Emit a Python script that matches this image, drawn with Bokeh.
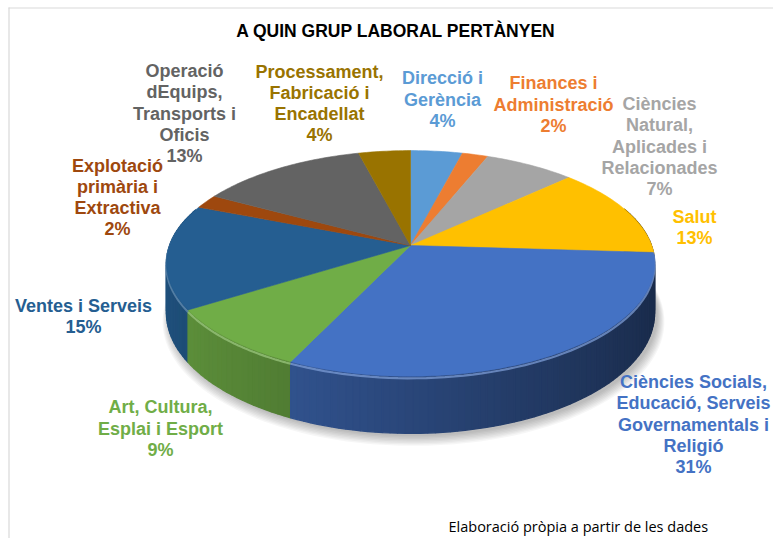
import numpy as np
from bokeh.plotting import figure
from bokeh.models import Range1d, ColumnDataSource
from bokeh.embed import file_html
from bokeh.resources import INLINE
from bokeh.core.properties import value

# ---------------- data ----------------
title_text = "A QUIN GRUP LABORAL  PERTÀNYEN"
categories = [
    "Direcció i Gerència",
    "Finances i Administració",
    "Ciències Natural, Aplicades i Relacionades",
    "Salut",
    "Ciències Socials, Educació, Serveis Governamentals i Religió",
    "Art, Cultura, Esplai i Esport",
    "Ventes i Serveis",
    "Explotació primària i Extractiva",
    "Operació dEquips, Transports i Oficis",
    "Processament, Fabricació i Encadellat",
]
label_lines = [
    ["Direcció i", "Gerència"],
    ["Finances i", "Administració"],
    ["Ciències", "Natural,", "Aplicades i", "Relacionades"],
    ["Salut"],
    ["Ciències Socials,", "Educació, Serveis", "Governamentals i", "Religió"],
    ["Art, Cultura,", "Esplai i Esport"],
    ["Ventes i Serveis"],
    ["Explotació", "primària i", "Extractiva"],
    ["Operació", "dEquips,", "Transports i", "Oficis"],
    ["Processament,", "Fabricació i", "Encadellat"],
]
values = [4, 2, 7, 13, 31, 9, 15, 2, 13, 4]
source_note = "Elaboració pròpia a partir de les dades"

# ---------------- styles / layout ----------------
colors = ["#5B9BD5", "#ED7D31", "#A5A5A5", "#FFC000", "#4472C4",
          "#70AD47", "#255E91", "#9E480E", "#636363", "#997300"]
label_centers = [(442, 99), (553, 104), (659, 146), (694, 227), (693, 424),
                 (160, 428), (83, 316), (117, 197), (184, 113), (319, 103)]
LINE_H = 21.3

W, H = 773, 538
CX, CY = 410.0, 245.0      # apex of the pie on screen
A, B, K, DEPTH = 241.0, 110.0, 0.159, 48.0


def hex_rgb(h):
    h = h.lstrip("#")
    return np.array([int(h[i:i + 2], 16) for i in (0, 2, 4)], dtype=float)


def rgb_hex(c):
    c = np.clip(c, 0, 255).astype(int)
    return "#%02x%02x%02x" % tuple(c)


def top_pt(theta, r=1.0):
    u = r * np.sin(theta)
    v = -r * np.cos(theta)
    s = 1.0 / (1.0 - K * v)
    return CX + A * u * s, CY + B * v * s, s


p = figure(width=W, height=H, output_backend="svg", toolbar_location=None,
           x_range=Range1d(0, W), y_range=Range1d(H, 0),
           x_axis_location=None, y_axis_location=None, min_border=0,
           background_fill_color="white", border_fill_color="white")
p.grid.visible = False
p.outline_line_color = None

# chart frame (top & left border visible in the reference)
p.segment(x0=[8, 8.5], y0=[7.5, 7], x1=[W, 8.5], y1=[7.5, H],
          line_color="#D9D9D9", line_width=1.2)

fr = np.array(values, dtype=float) / float(sum(values))
ends = np.cumsum(fr) * 2 * np.pi
starts = ends - fr * 2 * np.pi

# ---------------- shadow ----------------
th = np.linspace(0, 2 * np.pi, 200)
bx, by, bs = top_pt(th)
by = by + DEPTH * bs
sh_xs, sh_ys = [], []
for i in range(8):
    g = 1.0 + 0.004 * i
    sh_xs.append(list(CX + 3 + (bx - CX) * g))
    sh_ys.append(list(CY + DEPTH + 3 + i * 0.8 + (by - CY - DEPTH) * g))
p.patches(xs=sh_xs, ys=sh_ys, fill_color="black", fill_alpha=0.035, line_color=None)

# ---------------- side (rim) ----------------
quads = []
for i, (a0, a1) in enumerate(zip(starts, ends)):
    base = hex_rgb(colors[i])
    n = max(2, int(np.degrees(a1 - a0) / 1.5))
    ts = np.linspace(a0, a1, n + 1)
    for t0, t1 in zip(ts[:-1], ts[1:]):
        tm = 0.5 * (t0 + t1)
        vm = -np.cos(tm)
        if vm < -0.35:
            continue
        um = np.sin(tm)
        x0, y0, s0 = top_pt(t0)
        x1, y1, s1 = top_pt(t1)
        f = 0.62 - 0.24 * um
        quads.append((vm, [x0, x1, x1, x0],
                      [y0, y1, y1 + DEPTH * s1, y0 + DEPTH * s0], rgb_hex(base * f)))
quads.sort(key=lambda q: q[0])
p.patches(xs=[q[1] for q in quads], ys=[q[2] for q in quads],
          fill_color=[q[3] for q in quads], line_color=[q[3] for q in quads],
          line_width=1.3)

# bevel highlight at the top of the rim
rx, ry, rc = [], [], []
for i, (a0, a1) in enumerate(zip(starts, ends)):
    lo, hi = max(a0, np.pi / 2 - 0.2), min(a1, 3 * np.pi / 2 + 0.2)
    if hi <= lo:
        continue
    ts = np.linspace(lo, hi, 60)
    x, y, s = top_pt(ts)
    base = hex_rgb(colors[i])
    rx.append(list(x))
    ry.append(list(y + 2.0))
    rc.append(rgb_hex(base + (255 - base) * 0.3))
p.multi_line(xs=rx, ys=ry, line_color=rc, line_width=2.2, line_alpha=0.75)

# ---------------- top face ----------------
txs, tys = [], []
for a0, a1 in zip(starts, ends):
    ts = np.linspace(a0, a1, max(4, int(np.degrees(a1 - a0))))
    x, y, _ = top_pt(ts)
    txs.append([CX] + list(x))
    tys.append([CY] + list(y))
p.patches(xs=txs, ys=tys, fill_color=colors, line_color=colors, line_width=0.6)

# ---------------- labels ----------------
lx, ly, lt, lc = [], [], [], []
for i, lines in enumerate(label_lines):
    allines = lines + ["%d%%" % values[i]]
    cx, cy = label_centers[i]
    n = len(allines)
    for j, t in enumerate(allines):
        lx.append(cx)
        ly.append(cy + (j - (n - 1) / 2.0) * LINE_H)
        lt.append(t)
        lc.append(colors[i])
src = ColumnDataSource(dict(x=lx, y=ly, text=lt, color=lc))
p.text(x="x", y="y", text="text", source=src, text_color="color",
       text_font=value("Liberation Sans"), text_font_style="bold",
       text_font_size="18px", text_align="center", text_baseline="middle")

# title
p.text(x=[398], y=[30], text=[title_text], text_color="black",
       text_font=value("Liberation Sans"), text_font_style="bold",
       text_font_size="17.5px", text_align="center", text_baseline="middle")

# source note
p.text(x=[448], y=[526], text=[source_note], text_color="black",
       text_font=value("Open Sans"), text_font_size="14.5px",
       text_align="left", text_baseline="alphabetic")

open("out.html", "w").write(file_html(p, INLINE))
